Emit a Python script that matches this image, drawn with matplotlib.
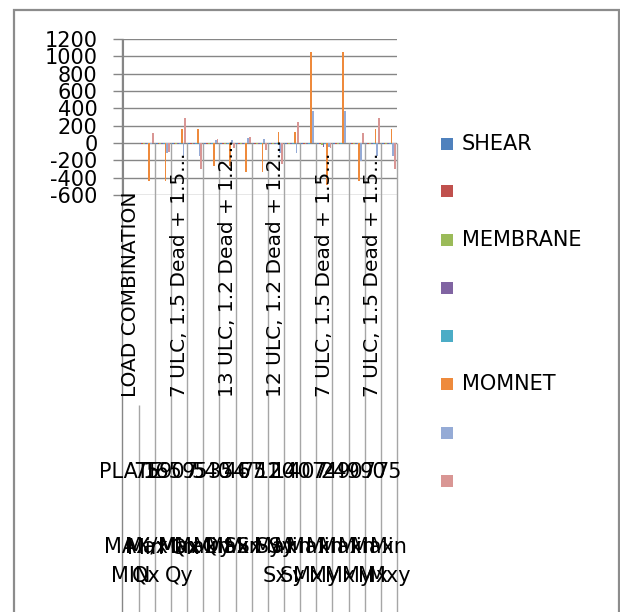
import numpy as np
import matplotlib
matplotlib.use("Agg")
import matplotlib.pyplot as plt
from matplotlib.patches import Rectangle

# series names as in the legend (blank ones are unnamed columns)
series_names = ["SHEAR", "", "MEMBRANE", "", "", "MOMNET", "", ""]
series_colors = ["#4F81BD", "#C0504D", "#9BBB59", "#8064A2",
                 "#4BACC6", "#EE8A3C", "#95ABD6", "#D99694"]

# values per category (cat 0 is the header row -> empty)
shear    = [0, -14, -14, -12, -12, -10, -10, -12, -12, -14, -14, -10, -16, -10, -14, -12, -12]
col2     = [0, -12, -12, -10, -10, -9, -9, -10, -10, -12, -12, -8, -14, -8, -12, -10, -10]
membrane = [0, -15, -15, -13, -13, -11, -11, -13, -13, -15, -15, -10, -18, -10, -15, -13, -13]
col4     = [0, -13, -13, -11, -11, -10, -10, -11, -11, -13, -13, -9, -50, -9, -13, -11, -11]
col5     = [0, -12, -12, -10, -10, -9, -9, -10, -10, -12, -12, -8, -15, -8, -12, -10, -10]
momnet   = [0, -436, -436, 162, 162, -270, -270, -340, -340, 130, 130, 1047, -490, 1047, -436, 162, 162]
col7     = [0, -15, -120, -155, -155, 38, 35, 60, 50, -115, -115, 365, -50, 365, -212, -155, -155]
col8     = [0, 110, -100, 292, -297, 50, -55, 70, -75, -240, 238, 5, -55, 5, 110, 292, -300]
series = [shear, col2, membrane, col4, col5, momnet, col7, col8]

# multi-level category labels
load_combos = ["LOAD COMBINATION", "7 ULC, 1.5 Dead + 1.5...", "13 ULC, 1.2 Dead + 1.2...",
               "12 ULC, 1.2 Dead + 1.2...", "7 ULC, 1.5 Dead + 1.5...", "7 ULC, 1.5 Dead + 1.5..."]
combo_cats = [0, 3, 6, 9, 12, 15]
plates = ["PLATE", "75", "165", "907", "95", "540", "354", "467", "751",
          "120", "140", "407", "74", "249", "907", "90", "75"]
extremes = ["MAX/\nMIN", "Max\nQx", "Min Qx", "Max\nQy", "Min Qy", "Max Sx", "Min Sx",
            "Max Sy", "Min Sy", "Max\nSx", "Min\nSy", "Max\nMx", "Min\nMy",
            "Max\nMx", "Min\nMy", "Max\nMx", "Min\nMxy"]
yticks = list(range(-600, 1201, 200))

W, H = 620, 612
fig = plt.figure(figsize=(W / 100, H / 100), dpi=100)
plt.rcParams['font.family'] = ['DejaVu Sans']

def fx(px):
    return px / W

def fy(py):
    return 1 - py / H

# plot area in pixels
x0, x1, ytop, ybot = 122.5, 397, 39, 195
ax = fig.add_axes([fx(x0), fy(ybot), (x1 - x0) / W, (ybot - ytop) / H])

def ay(py):
    return (ybot - py) / (ybot - ytop)

n = len(shear)
x = np.arange(n)
bw = 0.11
for i, vals in enumerate(series):
    ax.bar(x + (i - 3.5) * bw, vals, width=bw, color=series_colors[i], linewidth=0, zorder=3)

ax.set_xlim(-0.5, n - 0.5)
ax.set_ylim(-600, 1200)
ax.set_yticks(yticks)
ax.set_yticklabels([str(t) for t in yticks], fontsize=15)
ax.tick_params(axis='y', length=7, color="#868686", width=1, pad=11)
ax.tick_params(axis='x', bottom=False, labelbottom=False)
ax.grid(axis='y', color="#868686", linewidth=1, zorder=1)
for s in ["top", "right", "bottom"]:
    ax.spines[s].set_visible(False)
ax.spines["left"].set_color("#868686")

# category divider lines
trans = ax.get_xaxis_transform()
for k in range(n + 1):
    b = k - 0.5
    if k == 0:
        ax.vlines(b, -3, 1, transform=trans, color="#868686", lw=1, clip_on=False)
    elif k == 1:
        ax.vlines(b, -3, ay(405), transform=trans, color="#A6A6A6", lw=1, clip_on=False)
    else:
        ax.vlines(b, -3, 1 / 3, transform=trans, color="#A6A6A6", lw=1, clip_on=False)

# level 1: load combination (rotated)
for lbl, c in zip(load_combos, combo_cats):
    ax.text(c, ay(397), lbl, transform=trans, rotation=90, ha='center', va='bottom',
            fontsize=14.5, clip_on=False)

# level 2: plate numbers
for i, lbl in enumerate(plates):
    ax.text(i, ay(472), lbl, transform=trans, ha='center', va='center',
            fontsize=15, clip_on=False)

# level 3: max/min labels
for i, lbl in enumerate(extremes):
    ax.text(i, ay(537), lbl, transform=trans, ha='center', va='top',
            fontsize=15, linespacing=1.55, clip_on=False)

# legend
leg_y = [144, 191, 240, 288, 336, 384, 433, 481]
for name, col, py in zip(series_names, series_colors, leg_y):
    fig.add_artist(Rectangle((fx(441), fy(py + 6)), 12 / W, 12 / H,
                             facecolor=col, edgecolor='none', transform=fig.transFigure))
    if name:
        fig.text(fx(462), fy(py), name, ha='left', va='center', fontsize=15)

# outer chart frame
fig.add_artist(Rectangle((fx(14), -0.02), (619 - 14) / W, fy(10) + 0.02,
                         fill=False, edgecolor="#8C8C8C", linewidth=1.6,
                         transform=fig.transFigure))

fig.savefig("out.png", dpi=100)
